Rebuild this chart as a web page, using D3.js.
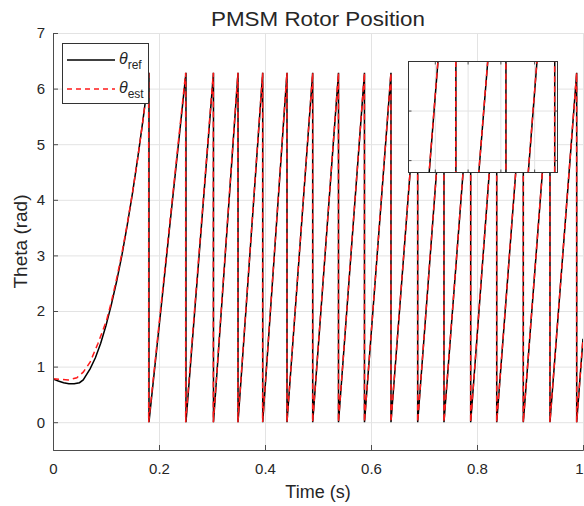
<!DOCTYPE html>
<html>
<head>
<meta charset="utf-8">
<script src="https://cdn.jsdelivr.net/npm/d3@7"></script>
<style>
  body { margin: 0; background: #fff; }
  text { font-family: "Liberation Sans", Arial, sans-serif; fill: #262626; }
</style>
</head>
<body>
<svg id="chart"></svg>
<script>
// Data
const TWO_PI = 6.2832;

// swing-up part, before the first wrap of theta
const refStartT = [0, 0.01, 0.02, 0.03, 0.04, 0.05, 0.057, 0.07, 0.08, 0.09, 0.10, 0.11, 0.12, 0.13, 0.14, 0.15, 0.16, 0.17, 0.1811];
const refStartV = [0.78, 0.74, 0.71, 0.69, 0.69, 0.71, 0.76, 0.96, 1.16, 1.42, 1.74, 2.11, 2.53, 3.00, 3.54, 4.12, 4.76, 5.45, 6.2832];
const estStartT = [0, 0.015, 0.029, 0.045, 0.057, 0.07, 0.085, 0.101, 0.11, 0.12, 0.13, 0.14, 0.15, 0.16, 0.17, 0.1805];
const estStartV = [0.78, 0.77, 0.76, 0.80, 0.90, 1.08, 1.42, 1.83, 2.16, 2.58, 3.04, 3.56, 4.13, 4.76, 5.45, 6.2832];

// times where theta wraps from 2*pi back to 0
const refWrapT = [0.1811, 0.2509, 0.3028, 0.3491, 0.3957, 0.4415, 0.4900, 0.5387, 0.5877, 0.6377, 0.6881, 0.7377, 0.7881, 0.8372, 0.8874, 0.9377, 0.9881];
const estWrapT = [0.1805, 0.2503, 0.3025, 0.3489, 0.3955, 0.4414, 0.4899, 0.5386, 0.5876, 0.6376, 0.6880, 0.7376, 0.7880, 0.8371, 0.8873, 0.9376, 0.9880];
const refEndV = 1.50;
const estEndV = 1.51;

const xTicks = [0, 0.2, 0.4, 0.6, 0.8, 1];
const yTicks = [0, 1, 2, 3, 4, 5, 6, 7];
const insetXTicks = [0.717, 0.75, 0.783, 0.817];
const insetYTicks = [3.0, 3.5, 4.0];

const W = 584, H = 506;
const margin = { left: 53, right: 1, top: 33, bottom: 56 };

const svg = d3.select("#chart").attr("width", W).attr("height", H);

const x = d3.scaleLinear().domain([0, 1]).range([margin.left, W - margin.right]);
const y = d3.scaleLinear().domain([-0.5, 7]).range([H - margin.bottom, margin.top]);

// build a wrapped sawtooth path: start curve, then linear rises between wraps
function buildSeries(startT, startV, wraps, endV) {
    const pts = startT.map((t, i) => [t, startV[i]]);
    for (let i = 0; i < wraps.length; i++) {
        pts.push([wraps[i], 0]);
        if (i < wraps.length - 1) pts.push([wraps[i + 1], TWO_PI]);
    }
    pts.push([1, endV]);
    return pts;
}
const refData = buildSeries(refStartT, refStartV, refWrapT, refEndV);
const estData = buildSeries(estStartT, estStartV, estWrapT, estEndV);

// grid
svg.append("g")
    .attr("transform", `translate(0,${y(-0.5)})`)
    .call(d3.axisBottom(x).tickValues(xTicks).tickSize(-(y(-0.5) - y(7))).tickFormat(""))
    .call(g => g.select(".domain").remove())
    .call(g => g.selectAll("line").attr("stroke", "#e3e3e3"));
svg.append("g")
    .attr("transform", `translate(${x(0)},0)`)
    .call(d3.axisLeft(y).tickValues(yTicks).tickSize(-(x(1) - x(0))).tickFormat(""))
    .call(g => g.select(".domain").remove())
    .call(g => g.selectAll("line").attr("stroke", "#e3e3e3"));

// clip for the main plot
svg.append("clipPath").attr("id", "plotClip")
    .append("rect")
    .attr("x", x(0)).attr("y", y(7))
    .attr("width", x(1) - x(0)).attr("height", y(-0.5) - y(7));

const line = d3.line().x(d => x(d[0])).y(d => y(d[1]));

const plot = svg.append("g").attr("clip-path", "url(#plotClip)");
plot.append("path").datum(refData)
    .attr("d", line).attr("fill", "none")
    .attr("stroke", "#000").attr("stroke-width", 1.5);
plot.append("path").datum(estData)
    .attr("d", line).attr("fill", "none")
    .attr("stroke", "#ff1a1a").attr("stroke-width", 1.5)
    .attr("stroke-dasharray", "6,4");

// axes (ticks pointing inward, MATLAB style)
const xAxis = svg.append("g")
    .attr("transform", `translate(0,${y(-0.5)})`)
    .call(d3.axisBottom(x).tickValues(xTicks).tickSize(-5).tickPadding(13).tickFormat(d3.format("")));
const yAxis = svg.append("g")
    .attr("transform", `translate(${x(0)},0)`)
    .call(d3.axisLeft(y).tickValues(yTicks).tickSize(-5).tickPadding(8).tickFormat(d3.format("")));
[xAxis, yAxis].forEach(g => {
    g.selectAll("path, line").attr("stroke", "#4d4d4d");
    g.selectAll("text").style("font-size", "15px").attr("fill", "#262626");
});
// keep the last x label inside the picture
xAxis.selectAll("text").filter(d => d === 1).attr("dx", -4);

// inset (zoomed view)
const inset = { x0: 408.5, x1: 557.5, y0: 61.5, y1: 172.5 };
const xi = d3.scaleLinear().domain([0.69, 0.84]).range([inset.x0, inset.x1]);
const yi = d3.scaleLinear().domain([2.88, 4.0]).range([inset.y1, inset.y0]);

const ig = svg.append("g");
ig.append("rect")
    .attr("x", inset.x0).attr("y", inset.y0)
    .attr("width", inset.x1 - inset.x0).attr("height", inset.y1 - inset.y0)
    .attr("fill", "#fff");
ig.selectAll(".ivgrid").data(insetXTicks).enter().append("line")
    .attr("x1", d => xi(d)).attr("x2", d => xi(d))
    .attr("y1", inset.y0).attr("y2", inset.y1)
    .attr("stroke", "#e3e3e3");
ig.selectAll(".ihgrid").data(insetYTicks).enter().append("line")
    .attr("x1", inset.x0).attr("x2", inset.x1)
    .attr("y1", d => yi(d)).attr("y2", d => yi(d))
    .attr("stroke", "#e3e3e3");

svg.append("clipPath").attr("id", "insetClip")
    .append("rect")
    .attr("x", inset.x0).attr("y", inset.y0)
    .attr("width", inset.x1 - inset.x0).attr("height", inset.y1 - inset.y0);

const iline = d3.line().x(d => xi(d[0])).y(d => yi(d[1]));
const ip = ig.append("g").attr("clip-path", "url(#insetClip)");
ip.append("path").datum(refData)
    .attr("d", iline).attr("fill", "none")
    .attr("stroke", "#000").attr("stroke-width", 1.5);
ip.append("path").datum(estData)
    .attr("d", iline).attr("fill", "none")
    .attr("stroke", "#ff1a1a").attr("stroke-width", 1.5)
    .attr("stroke-dasharray", "6,4");

// inset ticks on all four sides
insetXTicks.forEach(t => {
    ig.append("line").attr("x1", xi(t)).attr("x2", xi(t)).attr("y1", inset.y1).attr("y2", inset.y1 - 3).attr("stroke", "#4d4d4d");
    ig.append("line").attr("x1", xi(t)).attr("x2", xi(t)).attr("y1", inset.y0).attr("y2", inset.y0 + 3).attr("stroke", "#4d4d4d");
});
insetYTicks.forEach(v => {
    ig.append("line").attr("x1", inset.x0).attr("x2", inset.x0 + 3).attr("y1", yi(v)).attr("y2", yi(v)).attr("stroke", "#4d4d4d");
    ig.append("line").attr("x1", inset.x1).attr("x2", inset.x1 - 3).attr("y1", yi(v)).attr("y2", yi(v)).attr("stroke", "#4d4d4d");
});
ig.append("rect")
    .attr("x", inset.x0).attr("y", inset.y0)
    .attr("width", inset.x1 - inset.x0).attr("height", inset.y1 - inset.y0)
    .attr("fill", "none").attr("stroke", "#333");

// title and labels
svg.append("text")
    .attr("x", (x(0) + x(1)) / 2).attr("y", 26)
    .attr("text-anchor", "middle")
    .attr("textLength", 214).attr("lengthAdjust", "spacingAndGlyphs")
    .style("font-size", "21px").attr("fill", "#000")
    .text("PMSM Rotor Position");
svg.append("text")
    .attr("x", (x(0) + x(1)) / 2).attr("y", 498)
    .attr("text-anchor", "middle")
    .style("font-size", "18px")
    .text("Time (s)");
svg.append("text")
    .attr("transform", `translate(27,${(y(-0.5) + y(7)) / 2}) rotate(-90)`)
    .attr("text-anchor", "middle")
    .style("font-size", "19px")
    .text("Theta (rad)");

// legend
const legend = svg.append("g");
legend.append("rect")
    .attr("x", 62.5).attr("y", 43.5).attr("width", 86).attr("height", 60)
    .attr("fill", "#fff").attr("stroke", "#333");
const legendItems = [
    { sub: "ref", color: "#000", dash: null, y: 60 },
    { sub: "est", color: "#ff1a1a", dash: "5,4", y: 89 }
];
legendItems.forEach(d => {
    legend.append("line")
        .attr("x1", 67).attr("x2", 115).attr("y1", d.y).attr("y2", d.y)
        .attr("stroke", d.color).attr("stroke-width", 1.5)
        .attr("stroke-dasharray", d.dash);
    const t = legend.append("text").attr("x", 119).attr("y", d.y + 4).style("font-size", "16px");
    t.append("tspan").style("font-style", "italic").text("θ");
    t.append("tspan").attr("dy", 5).style("font-size", "12px").text(d.sub);
});
</script>
</body>
</html>
